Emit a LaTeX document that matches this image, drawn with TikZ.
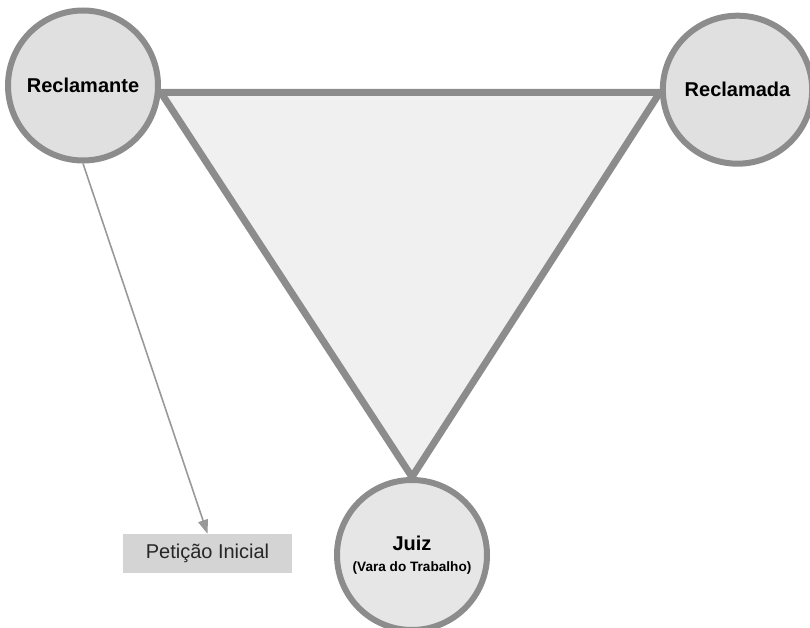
\documentclass[tikz,border=0pt]{standalone}
\usepackage{fontspec}
\setmainfont{Liberation Sans}
\definecolor{colorRim}{HTML}{8C8C8C}
\definecolor{colorParty}{HTML}{E0E0E0}
\definecolor{colorJudge}{HTML}{E6E6E6}
\definecolor{colorTri}{HTML}{F0F0F0}
\definecolor{colorArrow}{HTML}{999999}
\definecolor{colorBox}{HTML}{D4D4D4}
\usetikzlibrary{arrows.meta}
\usetikzlibrary{positioning}
\usetikzlibrary{shapes.geometric}
\usetikzlibrary{backgrounds}
\tikzset{
   every path/.style={>={Triangle[length=14pt,width=10pt]}},
   party/.style={circle,draw=colorRim,line width=6pt,fill=colorParty,inner sep=0pt,
      minimum size=150pt,font=\fontsize{20}{24}\selectfont\bfseries},
   partyE/.style={party,ellipse,minimum width=137pt,minimum height=148pt},
   judge/.style={party,fill=colorJudge,align=center},
   tri/.style={draw=colorRim,line width=7pt,fill=colorTri,line join=miter},
   pet/.style={->,color=colorArrow,line width=1.6pt},
   doc/.style={fill=colorBox,inner sep=0pt,minimum width=169pt,minimum height=39pt,
      text=black!85,font=\fontsize{20}{24}\selectfont},
}

\begin{document}
\begin{tikzpicture}[x=1pt,y=-1pt]

        \clip (0,0) rectangle (810,628);
        \useasboundingbox (0,0) rectangle (810,628);

        \node[party]  (rclm) at ( 83,  85.5) {Reclamante};
        \node[partyE] (rcld) at (737.5, 89.7) {Reclamada};
        \node[judge]  (juiz) at (412, 555) {Juiz\\[-3pt]{\fontsize{13.6}{15}\selectfont (Vara do Trabalho)}};

        \node[doc] (peti) at (207.5, 553.5) {Petição Inicial};

        \begin{scope}[on background layer]
          \draw[tri] (rclm.-5) -- (rcld.182) -- (juiz.north) -- cycle;
        \end{scope}

        \draw[pet] (rclm.south) -- (peti.north);

      \end{tikzpicture}
\end{document}
